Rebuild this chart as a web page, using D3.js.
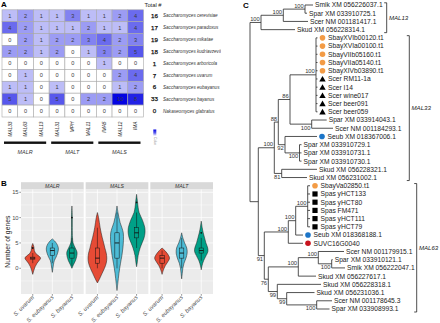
<!DOCTYPE html>
<html><head><meta charset="utf-8">
<script src="https://cdn.jsdelivr.net/npm/d3@7"></script>
<style>body{margin:0;background:#fff}svg{display:block}text{font-family:"Liberation Sans",Arial,sans-serif;-webkit-font-smoothing:antialiased}</style>
</head><body><svg id="c" width="440" height="323"></svg>
<script>
// ---------------- DATA ----------------
// Panel A heatmap
const heatGenes = ["MAL33","MAL63","MAL13","MAL31","MPH","MAL11","IMA5","MAL12","IMA"];
const heatGroups = [["MALR",0,2],["MALT",3,5],["MALS",6,8]];
const heatSpecies = ["Saccharomyces cerevisiae","Saccharomyces paradoxus","Saccharomyces mikatae",
  "Saccharomyces kudriavzevii","Saccharomyces arboricola","Saccharomyces uvarum",
  "Saccharomyces eubayanus","Saccharomyces bayanus","Nakaseomyces glabratus"];
const heatValues = [
  [1,2,1,1,3,1,1,2,4],
  [4,2,1,1,1,2,1,1,4],
  [0,2,1,2,2,3,4,2,3],
  [2,2,1,2,0,1,3,2,5],
  [0,0,0,0,0,0,1,0,0],
  [0,1,0,0,0,0,0,2,4],
  [1,1,0,1,0,0,0,1,2],
  [5,1,0,5,0,2,2,10,8],
  [0,0,0,0,0,0,0,0,0]
];

// Panel B violins
const violinFacets = ["MALR","MALS","MALT"];
const violinSpecies = ["S. uvarum","S. eubayanus","S. bayanus"];
const violinColors = ["#E64B35","#4DBBD5","#00A087"];
const yTicks = [0,5,10,15];
// density outline: [gene number, half width (fraction of category step)]
const violinMALR = [
  [[-1.2,0],[-0.5,0.05],[0.3,0.12],[1.0,0.22],[1.6,0.34],[2.0,0.40],[2.4,0.32],[2.9,0.16],[3.5,0.08],[4.2,0.06],[4.9,0]],
  [[-0.8,0],[0,0.03],[0.8,0.06],[1.5,0.1],[2.2,0.19],[3,0.27],[3.8,0.31],[4.5,0.27],[5.2,0.16],[5.8,0]],
  [[0,0],[0.7,0.08],[1.5,0.18],[2.4,0.25],[3.2,0.26],[4,0.17],[5,0.06],[6,0.03],[8,0.02],[10,0.02],[12.3,0]]
];
const violinMALS = [
  [[-2.9,0],[-2,0.12],[-1,0.24],[0,0.36],[1,0.45],[2,0.48],[3,0.45],[4,0.38],[5,0.32],[6,0.25],[7,0.19],[8,0.14],[9,0.1],[10,0.06],[11,0]],
  [[-4.4,0],[-3,0.04],[-1,0.1],[1,0.18],[2.5,0.25],[4,0.3],[5.5,0.33],[7,0.32],[8,0.25],[9,0.16],[10,0.1],[11,0.05],[12.3,0]],
  [[0.3,0],[1,0.03],[2.5,0.08],[4,0.18],[5,0.28],[6,0.38],[7,0.43],[8,0.42],[9.5,0.3],[11,0.13],[12,0.08],[13,0.05],[14.6,0]]
];
const violinMALT = [
  [[-1.2,0],[-0.3,0.07],[0.5,0.16],[1.2,0.28],[2,0.38],[2.6,0.32],[3,0.25],[3.5,0.14],[4,0]],
  [[-2.1,0],[-1,0.03],[0,0.06],[1,0.12],[2,0.22],[3,0.28],[4,0.26],[5,0.15],[6,0.06],[7,0]],
  [[-0.3,0],[0.5,0.04],[1.5,0.12],[2.5,0.25],[3.3,0.34],[4,0.33],[5,0.24],[6,0.17],[7,0.1],[8,0.05],[9.3,0]]
];
// box stats: [whisker low, q1, median, q3, whisker high]
const boxMALR = [[1,1.8,2,2.2,3],[1,2.5,3.5,4,5],[0.5,2,3,4,6]];
const boxMALS = [[0,1,2,4,8],[0,2,5,7,11],[4,6,7,8,11]];
const boxMALT = [[0,1,2,2.5,3.5],[0,2,3,4,6],[1.5,3,3.5,4,6]];
const outMALR = [[4],[],[10]];
const outMALS = [[],[],[13]];
const outMALT = [[],[],[7]];

// Panel C tree: [node, parent, branch length]
const treeEdges = [
  ["root",null,0],
  ["n13","root",0.11],["n13a","n13",0.223],["n13b","n13a",0.217],
  ["Smik XM 056226037.1","n13b",0.08],["Spar XM 033910725.1","n13b",0.02],
  ["Scer NM 001181417.1","n13a",0.247],["Skud XM 056228314.1","n13",0.34],
  ["R","root",0.083],["A","R",0.16],["n88","A",0.04],["n86","n88",0.117],
  ["nSS","n86",0.26],
  ["SbayXVIb00120.t1","nSS",0.015],["SbayXVIa00100.t1","nSS",0.015],["SbayVIIb05160.t1","nSS",0.015],
  ["SbayVIIa05140.t1","nSS",0.015],["SbayXIVb03890.t1","nSS",0.015],["Scer RM11-1a","nSS",0.015],
  ["Scer I14","nSS",0.015],["Scer wine017","nSS",0.015],["Scer beer091","nSS",0.015],["Scer beer059","nSS",0.015],
  ["nPS","n86",0.217],["Spar XM 033914043.1","nPS",0.15],["Scer NM 001184293.1","nPS",0.213],
  ["n92","n88",0.067],["Seub XM 018367006.1","n92",0.32],["nSp3","n92",0.145],
  ["Spar XM 033910729.1","nSp3",0.02],["Spar XM 033910731.1","nSp3",0.02],["Spar XM 033910730.1","nSp3",0.02],
  ["n81","A",0.074],["Skud XM 056228321.1","n81",0.353],["Skud XM 056231002.1","n81",0.253],
  ["M","R",0.06],["M1","M",0.24],["M1a","M1",0.074],["M1b","M1a",0.12],
  ["SbayVa02850.t1","M1b",0.023],["Spas yHCT133","M1b",0.023],["Spas yHCT80","M1b",0.023],
  ["Spas FM471","M1b",0.023],["Spas yHCT111","M1b",0.023],["Spas yHCT79","M1b",0.023],
  ["Seub XM 018368188.1","M1a",0.073],["SUVC16G0040","M1",0.147],
  ["M2","M",0.04],["M3","M2",0.3],["M3a","M3",0.2],["Scer NM 001179915.1","M3a",0.257],
  ["M3b","M3a",0.134],["Spar XM 033910121.1","M3b",0.01],["Smik XM 056222047.1","M3b",0.133],
  ["Skud XM 056227617.1","M3",0.177],
  ["M4","M2",0.09],["Skud XM 056228318.1","M4",0.437],["M5","M4",0.094],
  ["Skud XM 056231036.1","M5",0.278],["M6","M5",0.3],
  ["Scer NM 001178645.3","M6",0.153],["Spar XM 033908993.1","M6",0.128]
];
// [node, bootstrap, placement a=above b=below]
const treeSupport = [
  ["n13",100,"a"],["n13a",100,"a"],["n13b",100,"a"],["A",100,"a"],["n88",88,"a"],["n86",86,"a"],
  ["nSS",100,"a"],["nPS",100,"b"],["n92",92,"b"],["nSp3",100,"b"],["n81",81,"b"],["M",91,"b"],
  ["M1",100,"a"],["M1a",100,"a"],["M1b",100,"a"],["M2",76,"b"],["M3",100,"a"],["M3a",100,"a"],
  ["M3b",100,"b"],["M4",99,"b"],["M5",99,"b"],["M6",100,"b"]
];
const leafSymbols = [
  ["SbayXVIb00120.t1","sbay"],["SbayXVIa00100.t1","sbay"],["SbayVIIb05160.t1","sbay"],
  ["SbayVIIa05140.t1","sbay"],["SbayXIVb03890.t1","sbay"],
  ["Scer RM11-1a","scer"],["Scer I14","scer"],["Scer wine017","scer"],["Scer beer091","scer"],["Scer beer059","scer"],
  ["Seub XM 018367006.1","seub"],["SbayVa02850.t1","sbay"],
  ["Spas yHCT133","spas"],["Spas yHCT80","spas"],["Spas FM471","spas"],["Spas yHCT111","spas"],["Spas yHCT79","spas"],
  ["Seub XM 018368188.1","seub"],["SUVC16G0040","suva"]
];
const treeClades = [
  ["MAL13","Smik XM 056226037.1","Skud XM 056228314.1"],
  ["MAL33","SbayXVIb00120.t1","Skud XM 056231002.1"],
  ["MAL63","SbayVa02850.t1","Spar XM 033908993.1"]
];

// ---------------- DRAW ----------------
const svg = d3.select("#c");

// Panel letters
[["A",1,7],["B",1,186],["C",243,8]].forEach(([t,x,y]) =>
  svg.append("text").attr("x",x).attr("y",y).attr("font-size",8).attr("font-weight","bold").text(t));

// ===== Panel A =====
const gA = svg.append("g");
svg.append("clipPath").attr("id","clipA").append("rect").attr("x",0).attr("y",0).attr("width",221).attr("height",170);
const hx = d3.scaleBand().domain(heatGenes).range([2,143.5]);
const hy = d3.scaleBand().domain(heatSpecies).range([9.8,117]);
const hcol = v => d3.interpolateRgb("#ffffff","#0404e2")(Math.pow(v/10,0.58));

heatSpecies.forEach((sp,i) => {
  heatGenes.forEach((g,j) => {
    const v = heatValues[i][j];
    gA.append("rect").attr("x",hx(g)).attr("y",hy(sp)).attr("width",hx.bandwidth()).attr("height",hy.bandwidth())
      .attr("fill",hcol(v)).attr("stroke","#a8a8a8").attr("stroke-width",0.6);
    gA.append("text").attr("x",hx(g)+hx.bandwidth()/2).attr("y",hy(sp)+hy.bandwidth()/2)
      .attr("dy","0.36em").attr("text-anchor","middle").attr("font-size",5.6).attr("fill","#3a3a3a").text(v);
  });
  const tot = d3.sum(heatValues[i]);
  gA.append("text").attr("x",154.5).attr("y",hy(sp)+hy.bandwidth()/2).attr("dy","0.36em")
    .attr("text-anchor","middle").attr("font-size",6.2).attr("fill","#111")
    .attr("stroke","#111").attr("stroke-width",0.25).text(tot);
  gA.append("text").attr("x",163).attr("y",hy(sp)+hy.bandwidth()/2).attr("dy","0.36em")
    .attr("clip-path","url(#clipA)")
    .attr("font-size",4.6).attr("font-style","italic").attr("fill","#333").text(sp);
});
gA.append("text").attr("x",144.5).attr("y",7.2).attr("font-size",5.8).attr("fill","#222").text("Total #");

heatGenes.forEach(g => {
  gA.append("text").attr("transform",`translate(${hx(g)+hx.bandwidth()/2+1.7},121.5) rotate(-90)`)
    .attr("text-anchor","end").attr("font-size",4.8).attr("font-style","italic").attr("fill","#222").text(g);
});
heatGroups.forEach(([name,a,b]) => {
  const x0 = hx(heatGenes[a])+2, x1 = hx(heatGenes[b])+hx.bandwidth()-3;
  gA.append("rect").attr("x",x0).attr("y",141.5).attr("width",x1-x0).attr("height",2.4).attr("fill","#111");
  gA.append("text").attr("x",(x0+x1)/2).attr("y",154).attr("text-anchor","middle")
    .attr("font-size",5.4).attr("font-style","italic").attr("fill","#333").text(name);
});
// color key
const grad = svg.append("defs").append("linearGradient").attr("id","gk").attr("x1",0).attr("y1",0).attr("x2",0).attr("y2",1);
[0,0.5,1].forEach(t => grad.append("stop").attr("offset",t).attr("stop-color",hcol(10*(1-t))));
gA.append("rect").attr("x",153.3).attr("y",129.5).attr("width",3).attr("height",6.5).attr("fill","url(#gk)");
gA.append("text").attr("transform","translate(153.6,137) rotate(90)").attr("font-size",3.4).attr("fill","#888").text("Color");

// ===== Panel B =====
const gB = svg.append("g");
const fx = d3.scaleBand().domain(violinFacets).range([21,213]).paddingInner(0.031);
const yV = d3.scaleLinear().domain([-5.08,15.55]).range([294,189.5]);
const violins = {MALR:violinMALR, MALS:violinMALS, MALT:violinMALT};
const boxes = {MALR:boxMALR, MALS:boxMALS, MALT:boxMALT};
const outs = {MALR:outMALR, MALS:outMALS, MALT:outMALT};
const minorTicks = [-2.5,2.5,7.5,12.5];

violinFacets.forEach(f => {
  const x0 = fx(f), w = fx.bandwidth();
  const px = d3.scalePoint().domain(violinSpecies).range([x0,x0+w]).padding(0.6);
  const step = px.step();
  gB.append("rect").attr("x",x0).attr("y",182.2).attr("width",w).attr("height",7.3).attr("fill","#D9D9D9");
  gB.append("text").attr("x",x0+w/2).attr("y",185.9).attr("dy","0.35em").attr("text-anchor","middle")
    .attr("font-size",5.2).attr("font-style","italic").attr("fill","#333").text(f);
  gB.append("rect").attr("x",x0).attr("y",189.5).attr("width",w).attr("height",104.5).attr("fill","#EBEBEB");
  minorTicks.forEach(t => gB.append("line").attr("x1",x0).attr("x2",x0+w).attr("y1",yV(t)).attr("y2",yV(t))
    .attr("stroke","#fff").attr("stroke-width",0.35));
  yTicks.forEach(t => gB.append("line").attr("x1",x0).attr("x2",x0+w).attr("y1",yV(t)).attr("y2",yV(t))
    .attr("stroke","#fff").attr("stroke-width",0.75));
  violinSpecies.forEach(s => gB.append("line").attr("x1",px(s)).attr("x2",px(s)).attr("y1",189.5).attr("y2",294)
    .attr("stroke","#fff").attr("stroke-width",0.75));
  violinSpecies.forEach((s,i) => {
    const cx = px(s);
    const area = d3.area().y(d => yV(d[0])).x0(d => cx - d[1]*step).x1(d => cx + d[1]*step)
      .curve(d3.curveCatmullRom.alpha(0.5));
    gB.append("path").attr("d",area(violins[f][i])).attr("fill",violinColors[i])
      .attr("stroke","#1a1a1a").attr("stroke-width",0.5);
    const [wl,q1,md,q3,wh] = boxes[f][i];
    const bw = 0.11*step;
    gB.append("line").attr("x1",cx).attr("x2",cx).attr("y1",yV(wl)).attr("y2",yV(q1)).attr("stroke","#111").attr("stroke-width",0.5);
    gB.append("line").attr("x1",cx).attr("x2",cx).attr("y1",yV(q3)).attr("y2",yV(wh)).attr("stroke","#111").attr("stroke-width",0.5);
    gB.append("rect").attr("x",cx-bw).attr("y",yV(q3)).attr("width",2*bw).attr("height",Math.max(0.6,yV(q1)-yV(q3)))
      .attr("fill","none").attr("stroke","#111").attr("stroke-width",0.5);
    gB.append("line").attr("x1",cx-bw).attr("x2",cx+bw).attr("y1",yV(md)).attr("y2",yV(md)).attr("stroke","#111").attr("stroke-width",0.9);
    outs[f][i].forEach(o => gB.append("circle").attr("cx",cx).attr("cy",yV(o)).attr("r",0.9).attr("fill","#111"));
    gB.append("line").attr("x1",cx).attr("x2",cx).attr("y1",294).attr("y2",295.8).attr("stroke","#333").attr("stroke-width",0.5);
    gB.append("text").attr("transform",`translate(${cx+1.6},297.8) rotate(-45)`).attr("text-anchor","end")
      .attr("font-size",5.8).attr("font-style","italic").attr("fill","#4D4D4D").text(s);
  });
});
yTicks.forEach(t => {
  gB.append("line").attr("x1",19.3).attr("x2",21).attr("y1",yV(t)).attr("y2",yV(t)).attr("stroke","#333").attr("stroke-width",0.5);
  gB.append("text").attr("x",18.6).attr("y",yV(t)).attr("dy","0.35em").attr("text-anchor","end")
    .attr("font-size",5.8).attr("fill","#4D4D4D").text(t);
});
gB.append("text").attr("transform","translate(9.5,241.7) rotate(-90)").attr("text-anchor","middle")
  .attr("font-size",6.8).attr("fill","#222").text("Number of genes");

// ===== Panel C =====
const gC = svg.append("g");
const root = d3.stratify().id(d => d[0]).parentId(d => d[1])(treeEdges);
root.eachBefore(n => { n.depthLen = n.parent ? n.parent.depthLen + n.data[2] : 0; });
const leaves = root.leaves();
const tx = d3.scaleLinear().domain([0,1]).range([250,350]);
const ty = d3.scalePoint().domain(leaves.map(d => d.id)).range([5,309]);
root.eachAfter(n => {
  if (!n.children) n.py = ty(n.id);
  else n.py = (d3.min(n.children, c => c.py) + d3.max(n.children, c => c.py))/2;
  n.px = tx(n.depthLen);
});
root.each(n => {
  if (n.parent) gC.append("path").attr("d",`M${n.parent.px},${n.py}H${n.px}`)
    .attr("stroke","#333").attr("stroke-width",0.85).attr("fill","none");
  if (n.children) {
    const ys = n.children.map(c => c.py);
    gC.append("path").attr("d",`M${n.px},${d3.min(ys)}V${d3.max(ys)}`)
      .attr("stroke","#333").attr("stroke-width",0.85).attr("fill","none");
  }
});
const nodeById = new Map(root.descendants().map(n => [n.id,n]));
treeSupport.forEach(([id,v,pos]) => {
  const n = nodeById.get(id);
  gC.append("text").attr("x",n.px-1.2).attr("y",pos==="a" ? n.py-1.4 : n.py+5.6)
    .attr("text-anchor","end").attr("font-size",5.8).attr("fill","#333").text(v);
});
const symColor = {sbay:"#F39B45", seub:"#1C75C8", suva:"#C8141E", scer:"#000", spas:"#000"};
const symMap = new Map(leafSymbols);
leaves.forEach(n => {
  const s = symMap.get(n.id);
  let lx = n.px + 2;
  if (s) {
    const sx = n.px + 5, sy = n.py;
    if (s === "scer") gC.append("path").attr("d",`M${sx},${sy-3}L${sx+3.2},${sy+2.6}L${sx-3.2},${sy+2.6}Z`).attr("fill","#000");
    else if (s === "spas") gC.append("rect").attr("x",sx-2.6).attr("y",sy-2.6).attr("width",5.2).attr("height",5.2).attr("fill","#000");
    else gC.append("circle").attr("cx",sx).attr("cy",sy).attr("r",2.8).attr("fill",symColor[s]);
    lx = n.px + 10.5;
  }
  gC.append("text").attr("x",lx).attr("y",n.py).attr("dy","0.36em").attr("font-size",6.7).attr("fill","#222").text(n.id);
});
const bracketX = {MAL13:386.7, MAL33:409.3, MAL63:416.7};
treeClades.forEach(([name,a,b]) => {
  const y0 = ty(a) - 2.2, y1 = ty(b) + 3, bx = bracketX[name];
  gC.append("path").attr("d",`M${bx-2.5},${y0}H${bx}V${y1}H${bx-2.5}`).attr("stroke","#222").attr("stroke-width",0.8).attr("fill","none");
  gC.append("text").attr("x",bx+2.2).attr("y",(y0+y1)/2).attr("dy","0.36em").attr("font-size",6.1)
    .attr("font-style","italic").attr("fill","#222").text(name);
});
</script>
</body></html>
